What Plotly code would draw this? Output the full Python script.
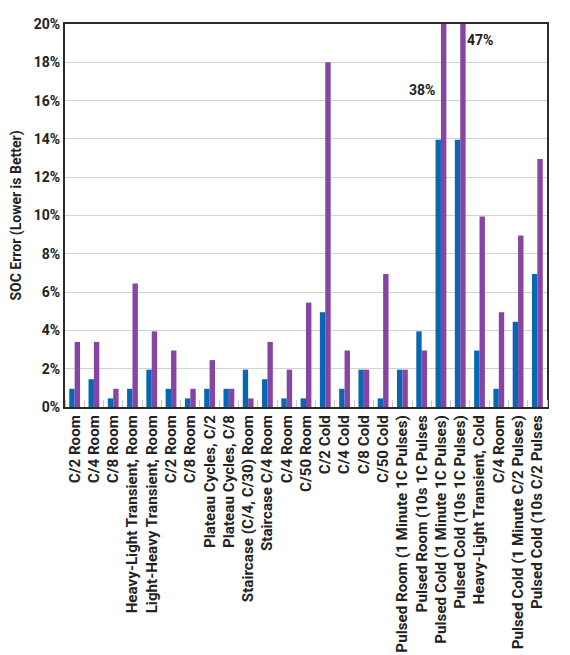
import plotly.graph_objects as go

categories = [
    "C/2 Room", "C/4 Room", "C/8 Room", "Heavy-Light Transient, Room",
    "Light-Heavy Transient, Room", "C/2 Room", "C/8 Room", "Plateau Cycles, C/2",
    "Plateau Cycles, C/8", "Staircase (C/4, C/30) Room", "Staircase C/4 Room",
    "C/4 Room", "C/50 Room", "C/2 Cold", "C/4 Cold", "C/8 Cold", "C/50 Cold",
    "Pulsed Room (1 Minute 1C Pulses)", "Pulsed Room (10s 1C Pulses",
    "Pulsed Cold (1 Minute 1C Pulses)", "Pulsed Cold (10s 1C Pulses)",
    "Heavy-Light Transient, Cold", "C/4 Room", "Pulsed Cold (1 Minute C/2 Pulses)",
    "Pulsed Cold (10s C/2 Pulses",
]
series_a = [0.95, 1.45, 0.45, 0.95, 1.95, 0.95, 0.45, 0.95, 0.95, 1.95, 1.45, 0.45,
            0.45, 4.95, 0.95, 1.95, 0.45, 1.95, 3.95, 13.95, 13.95, 2.95, 0.95, 4.45, 6.95]
series_b = [3.4, 3.4, 0.95, 6.45, 3.95, 2.95, 0.95, 2.45, 0.95, 0.45, 3.4, 1.95,
            5.45, 18.0, 2.95, 1.95, 6.95, 1.95, 2.95, 38.0, 47.0, 9.95, 4.95, 8.95, 12.95]
y_ticks = [0, 2, 4, 6, 8, 10, 12, 14, 16, 18, 20]
y_tick_labels = ["0%", "2%", "4%", "6%", "8%", "10%", "12%", "14%", "16%", "18%", "20%"]

x = list(range(len(categories)))
blue = "#0867b4"
purple = "#8745a3"
font_family = "Roboto"
txt = "#222222"

fig = go.Figure()
fig.add_trace(go.Bar(x=x, y=series_a, marker=dict(color=blue, line=dict(width=0)),
                     showlegend=False))
fig.add_trace(go.Bar(x=x, y=series_b, marker=dict(color=purple, line=dict(width=0)),
                     showlegend=False))

# labels for clipped bars
fig.add_annotation(x=19, y=16.55, text="38%", showarrow=False, xanchor="right",
                   xshift=-4, font=dict(family=font_family, size=14, color=txt, weight="bold"))
fig.add_annotation(x=20, y=19.15, text="47%", showarrow=False, xanchor="left",
                   xshift=5, font=dict(family=font_family, size=14, color=txt, weight="bold"))

fig.update_layout(
    width=562, height=647,
    margin=dict(l=57, r=23, t=16, b=248),
    barmode="group", bargap=0.44, bargroupgap=0,
    plot_bgcolor="white", paper_bgcolor="white",
    font=dict(family=font_family, size=14, color=txt, weight="bold"),
)
fig.update_xaxes(
    range=[-0.5, len(categories) - 0.5],
    tickmode="array", tickvals=x, ticktext=categories,
    tickangle=-90, ticks="", showgrid=False, automargin=False,
    showline=True, linecolor="#2b2b2b", linewidth=2, mirror=True,
    tickfont=dict(family=font_family, size=15.2, color=txt, weight="bold"),
    minor=dict(tick0=0.5, dtick=1, ticks="inside", ticklen=7, tickcolor="#c8c8c8",
               tickwidth=1, showgrid=False),
)
fig.update_yaxes(
    range=[0, 20], tickmode="array", tickvals=y_ticks, ticktext=y_tick_labels,
    showgrid=True, gridcolor="#d2d2d2", gridwidth=1, zeroline=False, automargin=False,
    showline=True, linecolor="#2b2b2b", linewidth=2, mirror=True,
    ticks="", tickfont=dict(family=font_family, size=14, color=txt, weight="bold"),
    title=dict(text="SOC Error (Lower is Better)", standoff=12,
               font=dict(family=font_family, size=14, color=txt, weight="bold")),
)

fig.write_html("out.html")
